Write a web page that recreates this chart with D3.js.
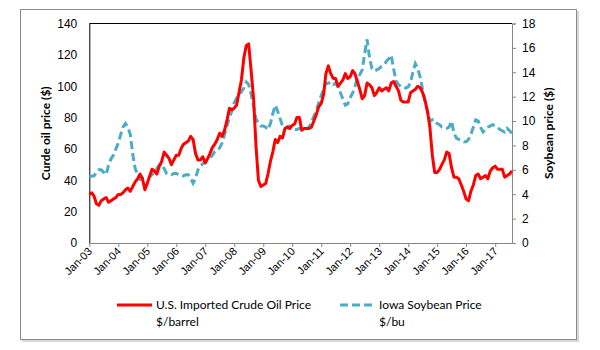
<!DOCTYPE html>
<html>
<head>
<meta charset="utf-8">
<script src="https://cdn.jsdelivr.net/npm/d3@7"></script>
<style>
  body { margin: 0; background: #fff; }
  svg { font-family: Lato, "Open Sans", sans-serif; }
</style>
</head>
<body>
<div id="chart"></div>
<script>
// monthly data, Jan 2003 .. Aug 2017
const firstMonth = new Date(2003, 0, 1);

const crudeOil = [
  31, 32, 30, 25, 24, 27, 28, 29, 26, 27, 28, 29,          // 2003
  31, 31, 32, 34, 35, 33, 36, 39, 41, 44, 41, 34,          // 2004
  38, 43, 47, 46, 44, 49, 52, 58, 56, 54, 50, 53,          // 2005
  56, 56, 60, 63, 64, 65, 68, 66, 57, 53, 53, 55,          // 2006
  51, 54, 57, 61, 63, 66, 70, 68, 72, 78, 86, 85,          // 2007
  86, 88, 96, 104, 118, 126, 127, 110, 92, 62, 40, 36,     // 2008
  37, 38, 44, 52, 58, 66, 64, 68, 67, 73, 74, 73,          // 2009
  75, 76, 80, 80, 72, 73, 73, 73, 74, 78, 82, 87,          // 2010
  89, 95, 108, 113, 108, 105, 105, 100, 102, 104, 108, 105, // 2011
  106, 110, 108, 103, 98, 92, 94, 102, 101, 99, 94, 96,    // 2012
  99, 97, 98, 99, 97, 102, 103, 100, 97, 91, 90, 90,       // 2013
  90, 96, 97, 98, 100, 99, 96, 91, 84, 74, 56, 45,         // 2014
  45, 47, 50, 53, 58, 57, 48, 42, 42, 41, 37, 33,          // 2015
  28, 27, 33, 37, 43, 44, 41, 42, 43, 41, 46, 48,          // 2016
  49, 47, 47, 47, 42, 43, 44, 46                           // 2017
];

const soybean = [
  5.4, 5.5, 5.5, 5.8, 6.0, 6.0, 5.8, 5.6, 6.4, 6.9, 7.2, 7.7,        // 2003
  8.2, 8.9, 9.5, 9.8, 9.5, 8.9, 7.3, 6.1, 5.6, 5.2, 5.3, 5.3,        // 2004
  5.3, 5.4, 5.6, 5.8, 6.1, 6.4, 6.5, 6.1, 5.7, 5.6, 5.6, 5.7,        // 2005
  5.7, 5.6, 5.6, 5.5, 5.6, 5.6, 5.3, 4.9, 5.3, 6.0, 6.3, 6.5,        // 2006
  6.7, 6.8, 7.0, 7.2, 7.5, 7.6, 7.8, 8.2, 8.9, 9.6, 10.3, 10.8,      // 2007
  11.5, 11.9, 12.2, 12.4, 12.7, 13.2, 13.0, 12.2, 11.2, 10.2, 9.8, 9.6, // 2008
  9.6, 9.5, 9.3, 9.8, 10.6, 11.3, 10.8, 10.2, 9.6, 9.4, 9.5, 9.6,    // 2009
  9.5, 9.3, 9.3, 9.4, 9.3, 9.2, 9.4, 9.5, 9.9, 10.4, 10.9, 11.5,     // 2010
  12.1, 12.6, 13.1, 13.1, 13.2, 13.0, 13.1, 12.8, 12.3, 11.8, 11.3, 11.4, // 2011
  11.9, 12.3, 12.8, 13.6, 13.8, 14.2, 15.5, 16.7, 15.2, 14.3, 14.1, 14.2, // 2012
  14.3, 14.5, 14.6, 14.9, 15.1, 15.4, 14.3, 13.3, 13.0, 12.8, 12.8, 12.7, // 2013
  12.8, 13.2, 14.0, 14.7, 14.3, 13.6, 12.6, 11.6, 10.8, 10.0, 10.1, 10.1, // 2014
  9.8, 9.7, 9.5, 9.4, 9.4, 9.5, 10.0, 9.0, 8.6, 8.5, 8.4, 8.3,       // 2015
  8.3, 8.5, 8.9, 9.5, 10.1, 10.0, 9.5, 9.1, 9.3, 9.5, 9.6, 9.7,      // 2016
  9.6, 9.5, 9.3, 9.2, 9.1, 9.4, 9.2, 9.0                             // 2017
];

const oilTicks = [0, 20, 40, 60, 80, 100, 120, 140];
const soyTicks = [0, 2, 4, 6, 8, 10, 12, 14, 16, 18];
const yearTicks = d3.range(2003, 2018).map(y => new Date(y, 0, 1));

const legendItems = [
  { label: ["U.S. Imported Crude Oil Price", "$/barrel"], color: "#ff0000", dash: null },
  { label: ["Iowa Soybean Price", "$/bu"], color: "#4bacc6", dash: "8,4" }
];

const width = 600, height = 350;
const margin = { top: 23.5, right: 88, bottom: 107, left: 89.3 };

const months = crudeOil.map((d, i) => d3.timeMonth.offset(firstMonth, i));

const svg = d3.select("#chart").append("svg")
    .attr("width", width)
    .attr("height", height);

// outer frame with a little shadow
svg.append("rect")
    .attr("x", 22).attr("y", 11)
    .attr("width", 557).attr("height", 331)
    .attr("fill", "#d8d8d8");
svg.append("rect")
    .attr("x", 20.5).attr("y", 9.5)
    .attr("width", 556).attr("height", 330)
    .attr("fill", "#fff")
    .attr("stroke", "#8c8c8c");

const x = d3.scaleTime()
    .domain([months[0], months[months.length - 1]])
    .range([margin.left, width - margin.right]);

const yOil = d3.scaleLinear()
    .domain([0, 140])
    .range([height - margin.bottom, margin.top]);

const ySoy = d3.scaleLinear()
    .domain([0, 18])
    .range([height - margin.bottom, margin.top]);

// top border of plot area
svg.append("line")
    .attr("x1", margin.left).attr("x2", width - margin.right)
    .attr("y1", margin.top).attr("y2", margin.top)
    .attr("stroke", "#000").attr("stroke-width", 1);

// left axis
const leftAxis = svg.append("g")
    .attr("transform", `translate(${margin.left},0)`)
    .call(d3.axisLeft(yOil).tickValues(oilTicks).tickSize(0).tickPadding(12));
leftAxis.select(".domain").attr("stroke", "#000");
leftAxis.selectAll("text").attr("font-size", 12).attr("fill", "#000");

// right axis
const rightAxis = svg.append("g")
    .attr("transform", `translate(${width - margin.right},0)`)
    .call(d3.axisRight(ySoy).tickValues(soyTicks).tickSize(4).tickPadding(6));
rightAxis.select(".domain").attr("stroke", "#868686");
rightAxis.selectAll(".tick line").attr("stroke", "#868686");
rightAxis.selectAll("text").attr("font-size", 12).attr("fill", "#000");

// bottom axis
const bottomAxis = svg.append("g")
    .attr("transform", `translate(0,${height - margin.bottom})`)
    .call(d3.axisBottom(x).tickValues(yearTicks).tickFormat(d3.timeFormat("%b-%y"))
        .tickSize(4).tickSizeOuter(0));
bottomAxis.select(".domain").attr("stroke", "#868686");
bottomAxis.selectAll(".tick line").attr("stroke", "#868686");
bottomAxis.selectAll("text")
    .attr("font-size", 11)
    .attr("fill", "#000")
    .attr("text-anchor", "end")
    .attr("dy", null)
    .attr("y", 0)
    .attr("transform", "translate(3,9) rotate(-45)");

// axis titles
svg.append("text")
    .attr("transform", `translate(50,${(margin.top + height - margin.bottom) / 2}) rotate(-90)`)
    .attr("text-anchor", "middle")
    .attr("font-size", 12)
    .attr("font-weight", "bold")
    .text("Curde oil price ($)");

svg.append("text")
    .attr("transform", `translate(553,${(margin.top + height - margin.bottom) / 2}) rotate(-90)`)
    .attr("text-anchor", "middle")
    .attr("font-size", 12)
    .attr("font-weight", "bold")
    .text("Soybean price ($)");

// lines
const oilLine = d3.line()
    .x((d, i) => x(months[i]))
    .y(d => yOil(d));

const soyLine = d3.line()
    .x((d, i) => x(months[i]))
    .y(d => ySoy(d));

svg.append("path")
    .datum(soybean)
    .attr("fill", "none")
    .attr("stroke", legendItems[1].color)
    .attr("stroke-width", 3)
    .attr("stroke-dasharray", legendItems[1].dash)
    .attr("d", soyLine);

svg.append("path")
    .datum(crudeOil)
    .attr("fill", "none")
    .attr("stroke", legendItems[0].color)
    .attr("stroke-width", 3)
    .attr("stroke-linejoin", "round")
    .attr("d", oilLine);

// legend
const legend = svg.append("g").attr("transform", "translate(117,305)");
const item = legend.selectAll("g")
    .data(legendItems)
    .join("g")
    .attr("transform", (d, i) => `translate(${i * 223},0)`);

item.append("line")
    .attr("x1", 0).attr("x2", 35)
    .attr("stroke", d => d.color)
    .attr("stroke-width", 3)
    .attr("stroke-dasharray", d => d.dash);

item.append("text")
    .attr("x", 39)
    .attr("font-size", 12)
    .attr("fill", "#000")
    .selectAll("tspan")
    .data(d => d.label)
    .join("tspan")
    .attr("x", 39)
    .attr("y", (d, i) => 4 + i * 17)
    .text(d => d);
</script>
</body>
</html>
